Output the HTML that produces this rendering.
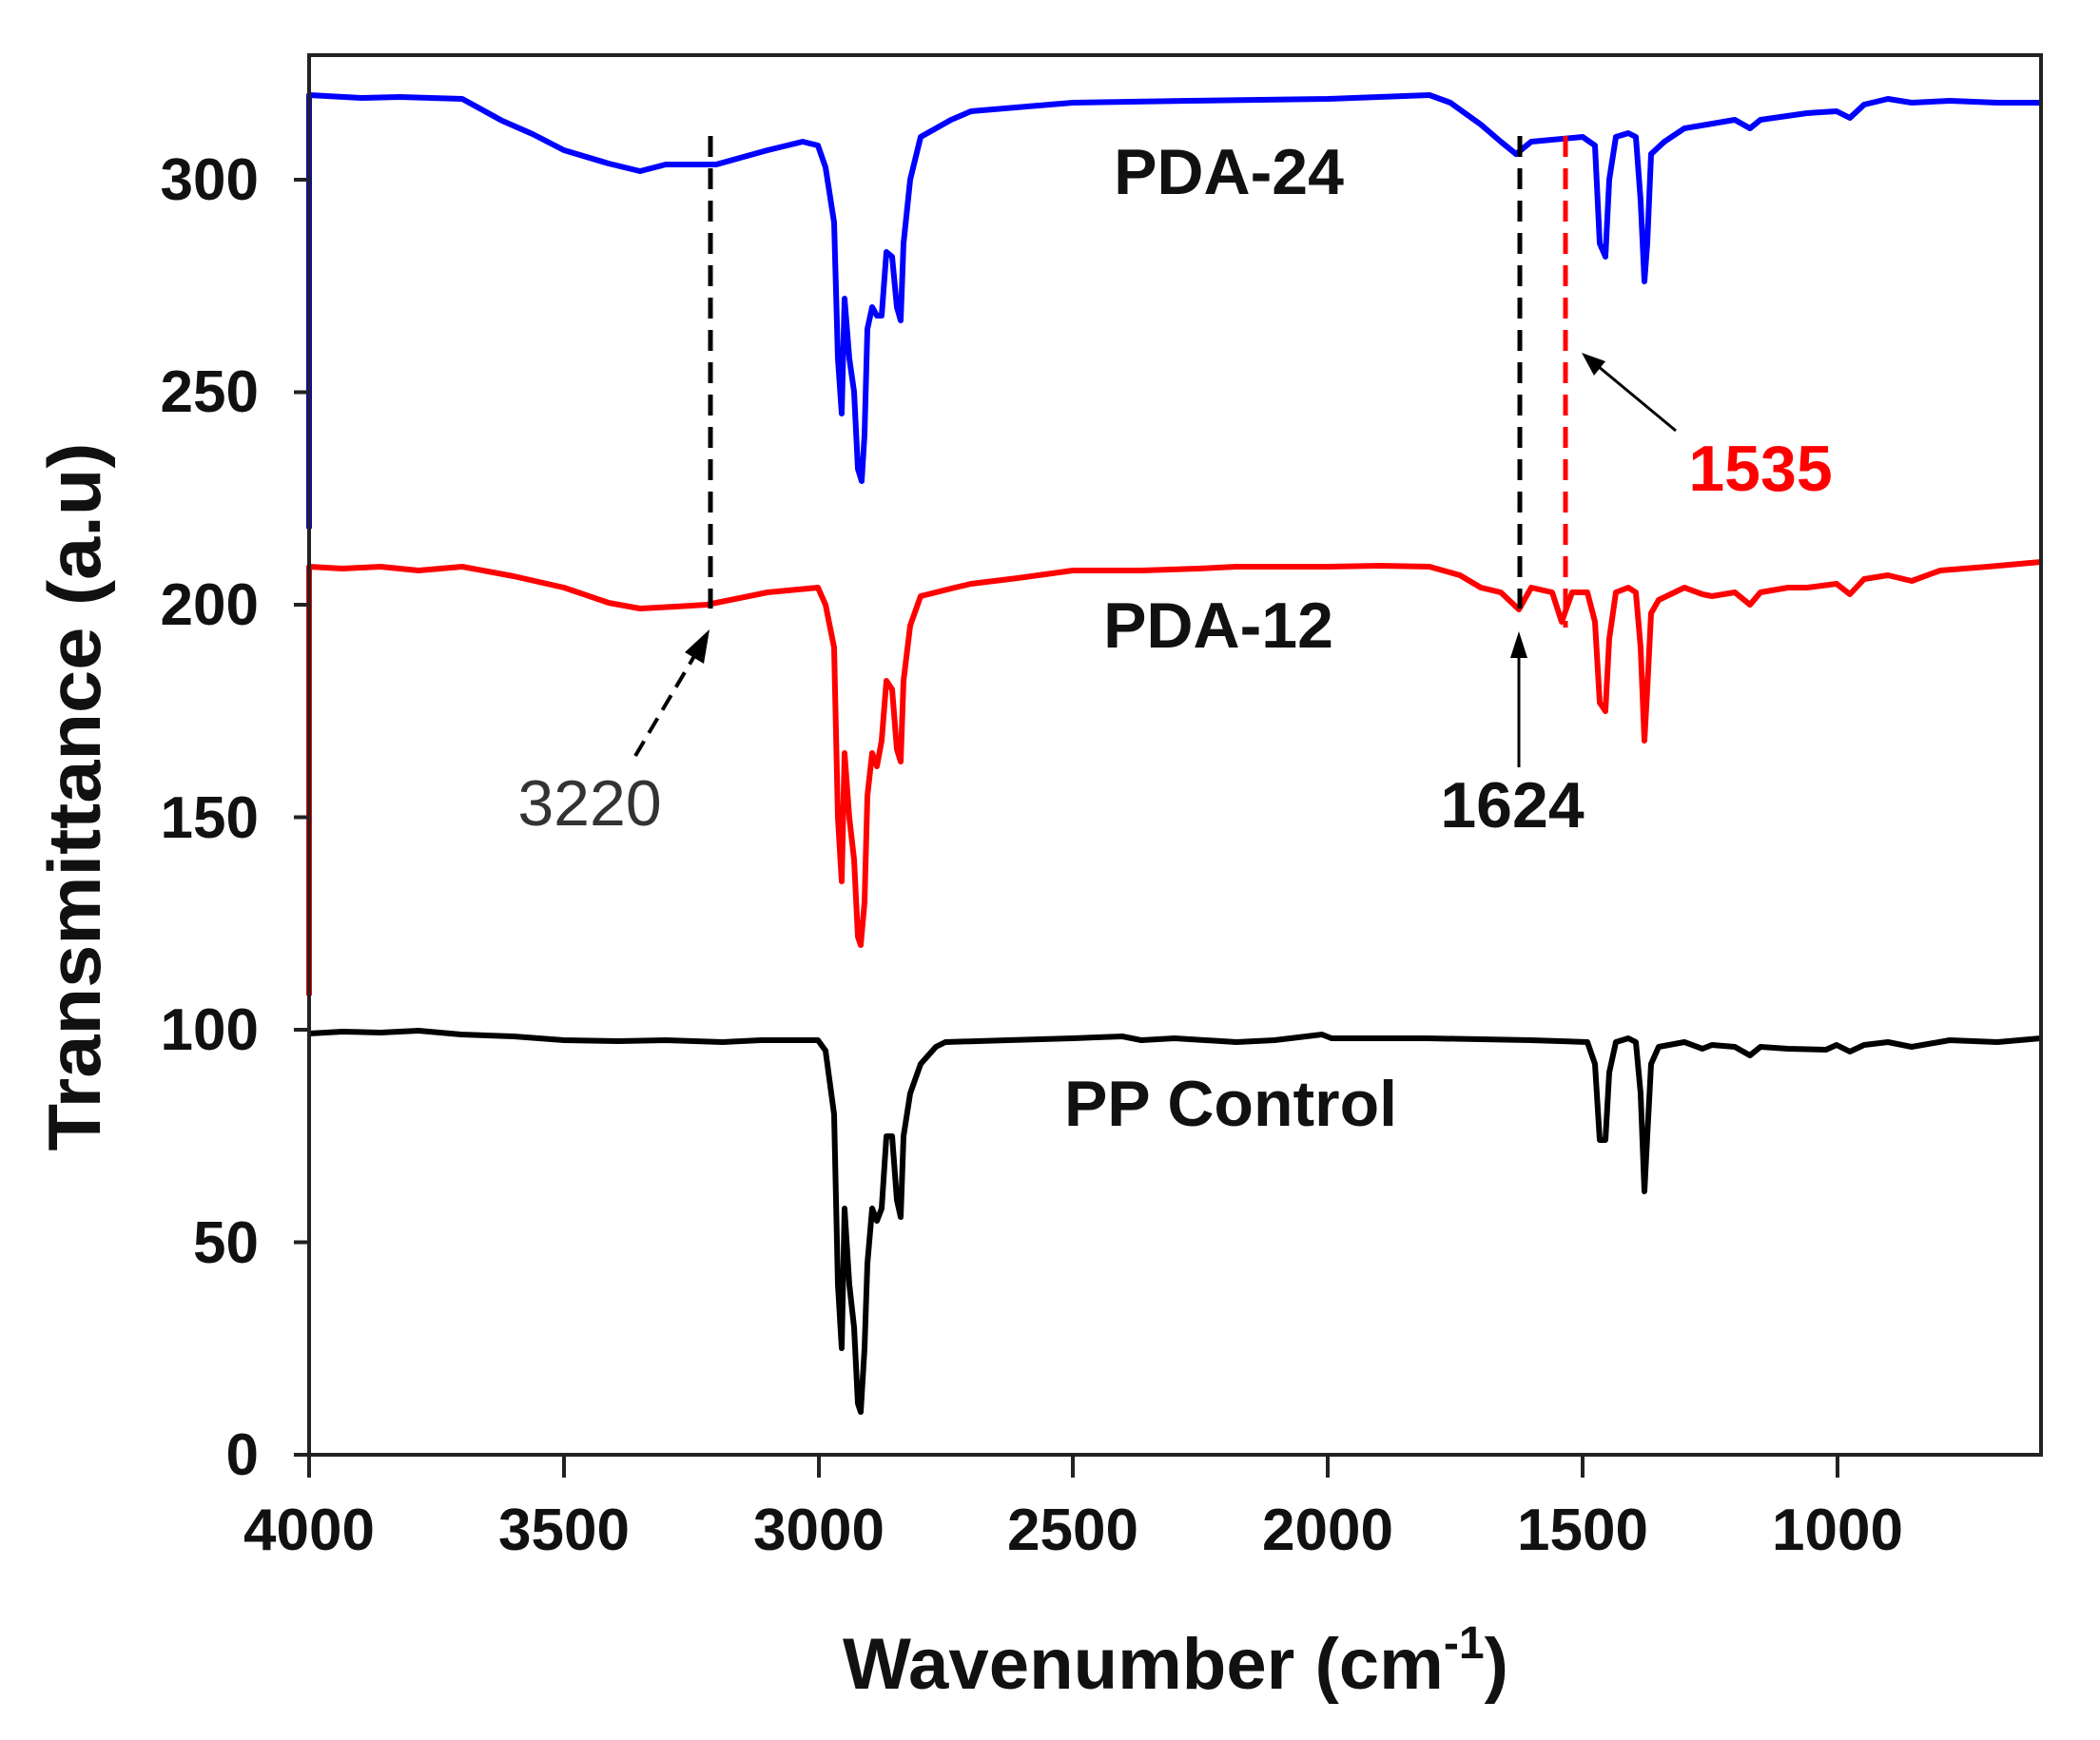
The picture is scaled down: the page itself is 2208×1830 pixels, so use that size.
<!DOCTYPE html>
<html><head><meta charset="utf-8"><style>
html,body{margin:0;padding:0;background:#fff;}
svg{display:block;}
text{font-family:"Liberation Sans",Arial,sans-serif;}
</style></head><body>
<svg width="2208" height="1830" viewBox="0 0 2208 1830" xmlns="http://www.w3.org/2000/svg">
<rect width="2208" height="1830" fill="#fff"/>
<g fill="none" stroke-width="6" stroke-linejoin="round">
<polyline stroke="#000" points="325,1087 360,1085 400,1086 440,1084 485,1088 540,1090 593,1094 650,1095 700,1094 760,1096 800,1094 860,1094 868,1105 877,1172 881,1351 885,1418 888,1271 893,1351 898,1396 902,1476 905,1485 909,1418 912,1329 917,1271 922,1284 927,1271 932,1195 938,1195 943,1262 947,1280 950,1195 957,1150 968,1119 984,1101 994,1096 1060,1094 1128,1092 1180,1090 1200,1094 1235,1092 1300,1096 1340,1094 1390,1088 1400,1092 1500,1092 1610,1094 1669,1096 1677,1119 1682,1199 1688,1199 1692,1128 1699,1096 1712,1092 1720,1096 1725,1150 1729,1253 1732,1195 1736,1119 1744,1101 1771,1096 1790,1103 1800,1099 1824,1101 1840,1110 1851,1101 1880,1103 1920,1104 1931,1099 1945,1106 1960,1099 1985,1096 2010,1101 2050,1094 2100,1096 2146,1092"/>
<polyline stroke="#f00" points="325,1047 325,596 360,598 400,596 440,600 486,596 540,606 593,618 640,634 673,640 710,638 743,636 807,623 860,618 868,636 877,681 881,860 885,927 888,792 893,860 898,904 902,985 905,994 909,949 912,837 917,792 922,806 927,779 932,716 938,725 943,788 947,801 950,716 957,658 968,627 1000,619 1021,614 1070,608 1128,600 1200,600 1260,598 1300,596 1396,596 1450,595 1503,596 1535,605 1557,618 1578,623 1597,641 1610,618 1632,623 1642,654 1653,623 1669,623 1677,654 1682,739 1688,748 1692,672 1699,623 1712,618 1720,623 1725,681 1729,779 1732,725 1736,645 1744,631 1771,618 1790,625 1800,627 1824,623 1840,636 1851,623 1880,618 1900,618 1931,614 1945,625 1960,609 1985,605 2010,611 2040,600 2090,596 2146,591"/>
<polyline stroke="#00f" points="325,556 325,100 380,103 420,102 486,104 528,127 560,141 593,158 640,172 673,180 700,173 753,173 807,158 844,149 860,153 868,176 877,234 881,377 885,435 888,314 893,377 898,412 902,493 906,506 909,457 912,346 917,323 922,332 927,332 932,265 938,270 943,323 947,337 950,256 957,189 968,144 1000,126 1021,117 1080,112 1128,108 1250,106 1396,104 1450,102 1503,100 1525,108 1557,131 1578,149 1594,162 1610,149 1664,144 1677,153 1682,256 1688,270 1692,189 1699,144 1712,140 1720,144 1725,211 1729,296 1732,256 1736,162 1750,149 1771,135 1824,126 1840,135 1851,126 1900,119 1931,117 1945,124 1960,110 1985,104 2010,108 2050,106 2100,108 2146,108"/>
</g>
<line x1="747" y1="143" x2="747" y2="640" stroke="#000" stroke-width="5" stroke-dasharray="22,12"/>
<line x1="1598" y1="143" x2="1598" y2="640" stroke="#000" stroke-width="5" stroke-dasharray="22,12"/>
<line x1="1646" y1="143" x2="1646" y2="660" stroke="#f00" stroke-width="5" stroke-dasharray="22,12"/>
<rect x="325" y="58" width="1821" height="1472" fill="none" stroke="#222" stroke-width="4"/>
<g stroke="#222" stroke-width="4">
<line x1="309" y1="1530" x2="325" y2="1530"/>
<line x1="309" y1="1306.5" x2="325" y2="1306.5"/>
<line x1="309" y1="1083" x2="325" y2="1083"/>
<line x1="309" y1="859.5" x2="325" y2="859.5"/>
<line x1="309" y1="636" x2="325" y2="636"/>
<line x1="309" y1="412.5" x2="325" y2="412.5"/>
<line x1="309" y1="189" x2="325" y2="189"/>
<line x1="325" y1="1530" x2="325" y2="1554"/>
<line x1="593" y1="1530" x2="593" y2="1554"/>
<line x1="861" y1="1530" x2="861" y2="1554"/>
<line x1="1128" y1="1530" x2="1128" y2="1554"/>
<line x1="1396" y1="1530" x2="1396" y2="1554"/>
<line x1="1664" y1="1530" x2="1664" y2="1554"/>
<line x1="1932" y1="1530" x2="1932" y2="1554"/>
</g>
<g font-size="62" font-weight="bold" fill="#111" text-anchor="end">
<text x="272" y="1551">0</text>
<text x="272" y="1328">50</text>
<text x="272" y="1104">100</text>
<text x="272" y="881">150</text>
<text x="272" y="657">200</text>
<text x="272" y="433">250</text>
<text x="272" y="210">300</text>
</g>
<g font-size="62" font-weight="bold" fill="#111" text-anchor="middle">
<text x="325" y="1630">4000</text>
<text x="593" y="1630">3500</text>
<text x="861" y="1630">3000</text>
<text x="1128" y="1630">2500</text>
<text x="1396" y="1630">2000</text>
<text x="1664" y="1630">1500</text>
<text x="1932" y="1630">1000</text>
</g>
<text x="1236" y="1776" font-size="76" font-weight="bold" fill="#111" text-anchor="middle" textLength="700" lengthAdjust="spacingAndGlyphs">Wavenumber (cm<tspan font-size="48" dy="-32">-1</tspan><tspan dy="32">)</tspan></text>
<text transform="translate(105,838) rotate(-90)" font-size="78" font-weight="bold" fill="#111" text-anchor="middle" textLength="745" lengthAdjust="spacingAndGlyphs">Transmittance (a.u)</text>
<g font-size="68" font-weight="bold" fill="#111" text-anchor="middle">
<text x="1292" y="204">PDA-24</text>
<text x="1281" y="681">PDA-12</text>
<text x="1294" y="1184">PP Control</text>
<text x="1590" y="870">1624</text>
</g>
<text x="1851" y="516" font-size="68" font-weight="bold" fill="#f00" text-anchor="middle">1535</text>
<text x="620" y="868" font-size="68" fill="#333" text-anchor="middle">3220</text>
<line x1="668" y1="795" x2="733" y2="685" stroke="#000" stroke-width="4" stroke-dasharray="18,10"/>
<polygon points="746,662 720,686 740,698" fill="#000"/>
<line x1="1597" y1="807" x2="1597" y2="690" stroke="#000" stroke-width="3"/>
<polygon points="1597,664 1588,692 1606,692" fill="#000"/>
<line x1="1762" y1="453" x2="1680" y2="385" stroke="#000" stroke-width="3"/>
<polygon points="1663,371 1676,395 1688,380" fill="#000"/>
</svg>
</body></html>
